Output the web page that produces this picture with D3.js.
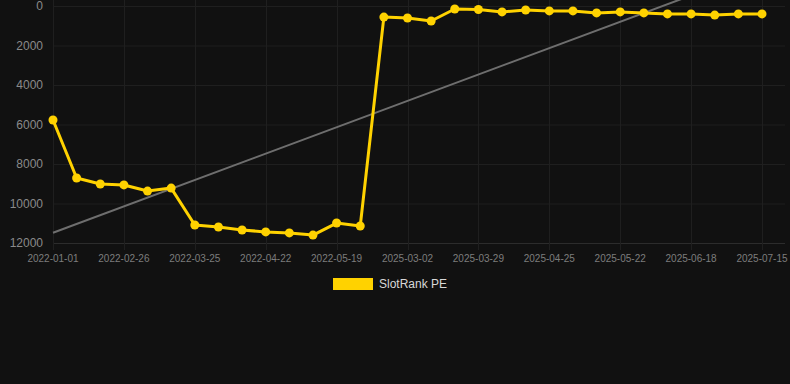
<!DOCTYPE html>
<html>
<head>
<meta charset="utf-8">
<script src="https://cdn.jsdelivr.net/npm/d3@7"></script>
<style>
  html, body { margin: 0; padding: 0; background: #111111; }
  svg { display: block; }
</style>
</head>
<body>
<svg id="chart"></svg>
<script>
// dates for each point (only every 3rd one is shown as a tick)
let dates = [
    "2022-01-01", "2022-01-20", "2022-02-07", "2022-02-26", "2022-03-07", "2022-03-16",
    "2022-03-25", "2022-04-03", "2022-04-13", "2022-04-22", "2022-05-01", "2022-05-10",
    "2022-05-19", "2022-05-28", "2025-02-22", "2025-03-02", "2025-03-11", "2025-03-20",
    "2025-03-29", "2025-04-07", "2025-04-16", "2025-04-25", "2025-05-04", "2025-05-13",
    "2025-05-22", "2025-05-31", "2025-06-09", "2025-06-18", "2025-06-27", "2025-07-06",
    "2025-07-15"
];
let rankValues = [
    5770, 8710, 9010, 9060, 9370, 9220,
    11090, 11190, 11340, 11440, 11490, 11600,
    10990, 11140, 560, 610, 760, 150,
    180, 300, 200, 250, 250, 350,
    300, 350, 400, 400, 460, 400,
    400
];
let trendEnds = [11480, -1870];
let yTicks = [0, 2000, 4000, 6000, 8000, 10000, 12000];
let seriesName = "SlotRank PE";

function drawChart() {
    let width = 790, height = 384;
    let left = 53, right = 785, top = 6, bottom = 243;
    let svg = d3.select("#chart").attr("width", width).attr("height", height);

    let x = d3.scalePoint().domain(dates).range([left, 762]);
    let y = d3.scaleLinear().domain([0, 12000]).range([top, bottom]);
    let tickDates = dates.filter((d, i) => i % 3 === 0);

    // grid
    let grid = svg.append("g");
    grid.selectAll("line.h").data(yTicks).enter().append("line")
        .attr("x1", left).attr("x2", right)
        .attr("y1", d => y(d) + 0.5).attr("y2", d => y(d) + 0.5)
        .attr("stroke", d => d === 12000 ? "#2c2c2c" : "#1f1f1f");
    grid.selectAll("line.v").data(tickDates).enter().append("line")
        .attr("x1", d => Math.round(x(d)) + 0.5).attr("x2", d => Math.round(x(d)) + 0.5)
        .attr("y1", 0).attr("y2", bottom + 7)
        .attr("stroke", "#1f1f1f");

    // y labels
    svg.append("g").selectAll("text").data(yTicks).enter().append("text")
        .attr("x", 43).attr("y", d => y(d))
        .attr("dy", "0.35em")
        .attr("text-anchor", "end")
        .attr("font-family", "Arial, 'Liberation Sans', sans-serif")
        .attr("font-size", 12)
        .attr("fill", "#8a8a8a")
        .text(d => d);

    // x labels
    svg.append("g").selectAll("text").data(tickDates).enter().append("text")
        .attr("x", d => x(d)).attr("y", 262)
        .attr("text-anchor", "middle")
        .attr("font-family", "Arial, 'Liberation Sans', sans-serif")
        .attr("font-size", 10)
        .attr("fill", "#7d7d7d")
        .text(d => d);

    // trend line
    svg.append("line")
        .attr("x1", x(dates[0])).attr("y1", y(trendEnds[0]))
        .attr("x2", x(dates[dates.length - 1])).attr("y2", y(trendEnds[1]))
        .attr("stroke", "#6e6e6e")
        .attr("stroke-width", 2);

    // series
    let line = d3.line().x((d, i) => x(dates[i])).y(d => y(d));
    svg.append("path").datum(rankValues)
        .attr("d", line)
        .attr("fill", "none")
        .attr("stroke", "#ffd200")
        .attr("stroke-width", 3)
        .attr("stroke-linejoin", "round");
    svg.append("g").selectAll("circle").data(rankValues).enter().append("circle")
        .attr("cx", (d, i) => x(dates[i]))
        .attr("cy", d => y(d))
        .attr("r", 4.5)
        .attr("fill", "#ffd200");

    // legend
    let legend = svg.append("g");
    legend.append("rect")
        .attr("x", 333).attr("y", 278).attr("width", 40).attr("height", 12)
        .attr("fill", "#ffd200");
    legend.append("text")
        .attr("x", 379).attr("y", 284)
        .attr("dy", "0.35em")
        .attr("font-family", "Arial, 'Liberation Sans', sans-serif")
        .attr("font-size", 12)
        .attr("fill", "#d8d8d8")
        .text(seriesName);
}

drawChart();
</script>
</body>
</html>
